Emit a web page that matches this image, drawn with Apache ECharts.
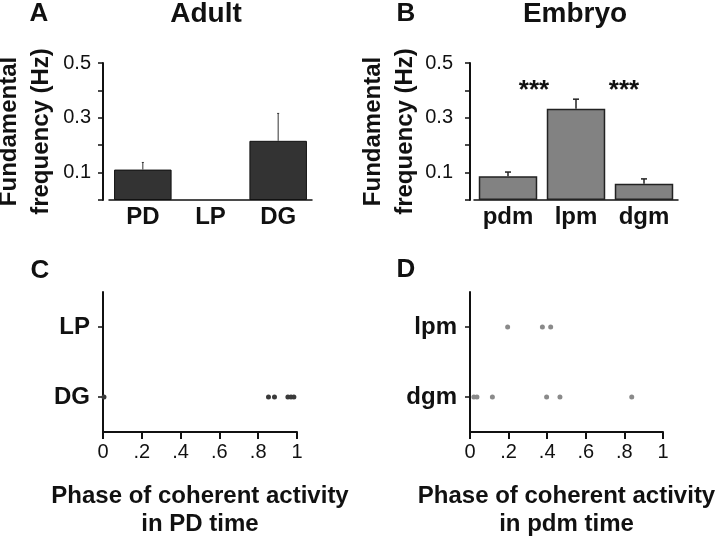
<!DOCTYPE html>
<html>
<head>
<meta charset="utf-8">
<script src="https://cdn.jsdelivr.net/npm/echarts@6/dist/echarts.min.js"></script>
<style>
html,body{margin:0;padding:0;background:#fff;}
#chart{width:720px;height:540px;}
</style>
</head>
<body>
<div id="chart"></div>
<script>
// ---- data ----
const barCatsA = ['PD', 'LP', 'DG'];
const barValsA = [0.111, null, 0.216];
const errTopA = [0.137, null, 0.316];

const barCatsB = ['pdm', 'lpm', 'dgm'];
const barValsB = [0.087, 0.333, 0.059];
const errTopB = [0.102, 0.368, 0.077];

const freqTickLabels = [0.1, 0.3, 0.5];

const phaseCatsC = ['DG', 'LP'];
const phaseC_DG = [0.005, 0.853, 0.884, 0.953, 0.969, 0.984];
const phaseC_LP = [];

const phaseCatsD = ['dgm', 'lpm'];
const phaseD_lpm = [0.195, 0.375, 0.418];
const phaseD_dgm = [0.02, 0.036, 0.116, 0.397, 0.466, 0.838];

const phaseTickLabels = ['0', '.2', '.4', '.6', '.8', '1'];

// ---- chart ----
const FONT = '"Liberation Sans", Arial, Helvetica, sans-serif';
const INK = '#111';
const chart = echarts.init(document.getElementById('chart'));

function errData(vals, tops) {
  const out = [];
  vals.forEach((v, i) => { if (v != null && tops[i] != null) out.push([i, tops[i], v]); });
  return out;
}
function errRender(cap, lw, color) {
  return function (params, api) {
    const top = api.coord([api.value(0), api.value(1)]);
    const base = api.coord([api.value(0), api.value(2)]);
    return {
      type: 'group',
      children: [
        { type: 'line', shape: { x1: top[0], y1: top[1], x2: base[0], y2: base[1] }, style: { stroke: color, lineWidth: lw } },
        { type: 'line', shape: { x1: top[0] - cap, y1: top[1], x2: top[0] + cap, y2: top[1] }, style: { stroke: color, lineWidth: lw } }
      ]
    };
  };
}
function freqAxis(gridIndex, offset, labelMargin) {
  return {
    type: 'value', gridIndex: gridIndex, min: 0, max: 0.5, interval: 0.1, offset: offset,
    axisLine: { show: true, lineStyle: { color: INK, width: 2 } },
    axisTick: { show: true, length: 5, lineStyle: { color: INK, width: 1.5 } },
    splitLine: { show: false },
    axisLabel: {
      fontFamily: FONT, fontSize: 20, color: INK, margin: labelMargin,
      formatter: v => freqTickLabels.some(t => Math.abs(t - v) < 1e-6) ? v.toFixed(1) : ''
    },
    name: 'Fundamental\nfrequency (Hz)', nameLocation: 'middle', nameGap: 46,
    nameTextStyle: { fontFamily: FONT, fontSize: 24, fontWeight: 'bold', color: INK, lineHeight: 32 }
  };
}
function catBarAxis(gridIndex, cats) {
  return {
    type: 'category', gridIndex: gridIndex, data: cats,
    axisLine: { show: true, lineStyle: { color: INK, width: 1.5 } },
    axisTick: { show: false },
    axisLabel: { fontFamily: FONT, fontSize: 24, fontWeight: 'bold', color: INK, margin: 5 }
  };
}
function phaseAxis(gridIndex, nameText) {
  return {
    type: 'value', gridIndex: gridIndex, min: 0, max: 1, interval: 0.2,
    axisLine: { show: true, lineStyle: { color: INK, width: 2 } },
    axisTick: { show: true, length: 7, lineStyle: { color: INK, width: 2 } },
    splitLine: { show: false },
    axisLabel: {
      fontFamily: FONT, fontSize: 20, color: INK, margin: 10,
      formatter: v => phaseTickLabels[Math.round(v * 5)]
    },
    name: nameText, nameLocation: 'middle', nameGap: 50,
    nameTextStyle: { fontFamily: FONT, fontSize: 24, fontWeight: 'bold', color: INK, lineHeight: 28 }
  };
}
function phaseCatAxis(gridIndex, cats) {
  return {
    type: 'category', gridIndex: gridIndex, data: cats,
    axisLine: { show: true, lineStyle: { color: INK, width: 2 } },
    axisTick: { show: true, alignWithLabel: true, length: 5, lineStyle: { color: INK, width: 1.5 } },
    axisLabel: { fontFamily: FONT, fontSize: 24, fontWeight: 'bold', color: INK, margin: 13 }
  };
}
function txt(text, x, y, size, extra) {
  return Object.assign({
    type: 'text', x: x, y: y,
    style: { text: text, fontFamily: FONT, fontSize: size, fontWeight: 'bold', fill: INK, align: 'center', verticalAlign: 'middle' }
  }, extra || {});
}

const option = {
  animation: false,
  backgroundColor: '#fff',
  grid: [
    { left: 109, width: 203, top: 63, height: 137, outerBoundsMode: 'none', containLabel: false },
    { left: 474, width: 204, top: 63, height: 137, outerBoundsMode: 'none', containLabel: false },
    { left: 103, width: 194, top: 292, height: 140, outerBoundsMode: 'none', containLabel: false },
    { left: 470, width: 193, top: 292, height: 140, outerBoundsMode: 'none', containLabel: false }
  ],
  xAxis: [
    catBarAxis(0, barCatsA),
    catBarAxis(1, barCatsB),
    phaseAxis(2, 'Phase of coherent activity\nin PD time'),
    phaseAxis(3, 'Phase of coherent activity\nin pdm time')
  ],
  yAxis: [
    freqAxis(0, 6, 12),
    freqAxis(1, 4, 17),
    phaseCatAxis(2, phaseCatsC),
    phaseCatAxis(3, phaseCatsD)
  ],
  series: [
    { type: 'bar', xAxisIndex: 0, yAxisIndex: 0, data: barValsA, barWidth: '85%',
      itemStyle: { color: '#333333', borderColor: '#111', borderWidth: 1 } },
    { type: 'custom', xAxisIndex: 0, yAxisIndex: 0, data: errData(barValsA, errTopA),
      encode: { x: 0, y: 1 }, renderItem: errRender(1, 1, '#333'), z: 3 },
    { type: 'bar', xAxisIndex: 1, yAxisIndex: 1, data: barValsB, barWidth: '86%',
      itemStyle: { color: '#828282', borderColor: '#222', borderWidth: 1.5 } },
    { type: 'custom', xAxisIndex: 1, yAxisIndex: 1, data: errData(barValsB, errTopB),
      encode: { x: 0, y: 1 }, renderItem: errRender(3, 1.5, '#222'), z: 3 },
    { type: 'scatter', xAxisIndex: 2, yAxisIndex: 2, symbolSize: 5,
      data: phaseC_DG.map(v => [v, 'DG']).concat(phaseC_LP.map(v => [v, 'LP'])),
      itemStyle: { color: '#3a3a3a', opacity: 1 } },
    { type: 'scatter', xAxisIndex: 3, yAxisIndex: 3, symbolSize: 5,
      data: phaseD_dgm.map(v => [v, 'dgm']).concat(phaseD_lpm.map(v => [v, 'lpm'])),
      itemStyle: { color: '#8a8a8a', opacity: 1 } }
  ],
  graphic: [
    txt('A', 39, 14, 26),
    txt('B', 406, 14, 26),
    txt('C', 40, 271, 26),
    txt('D', 406, 270, 26),
    txt('Adult', 206, 14, 28),
    txt('Embryo', 575, 14, 28),
    txt('***', 534, 91, 26),
    txt('***', 624, 91, 26)
  ]
};
chart.setOption(option);
</script>
</body>
</html>
